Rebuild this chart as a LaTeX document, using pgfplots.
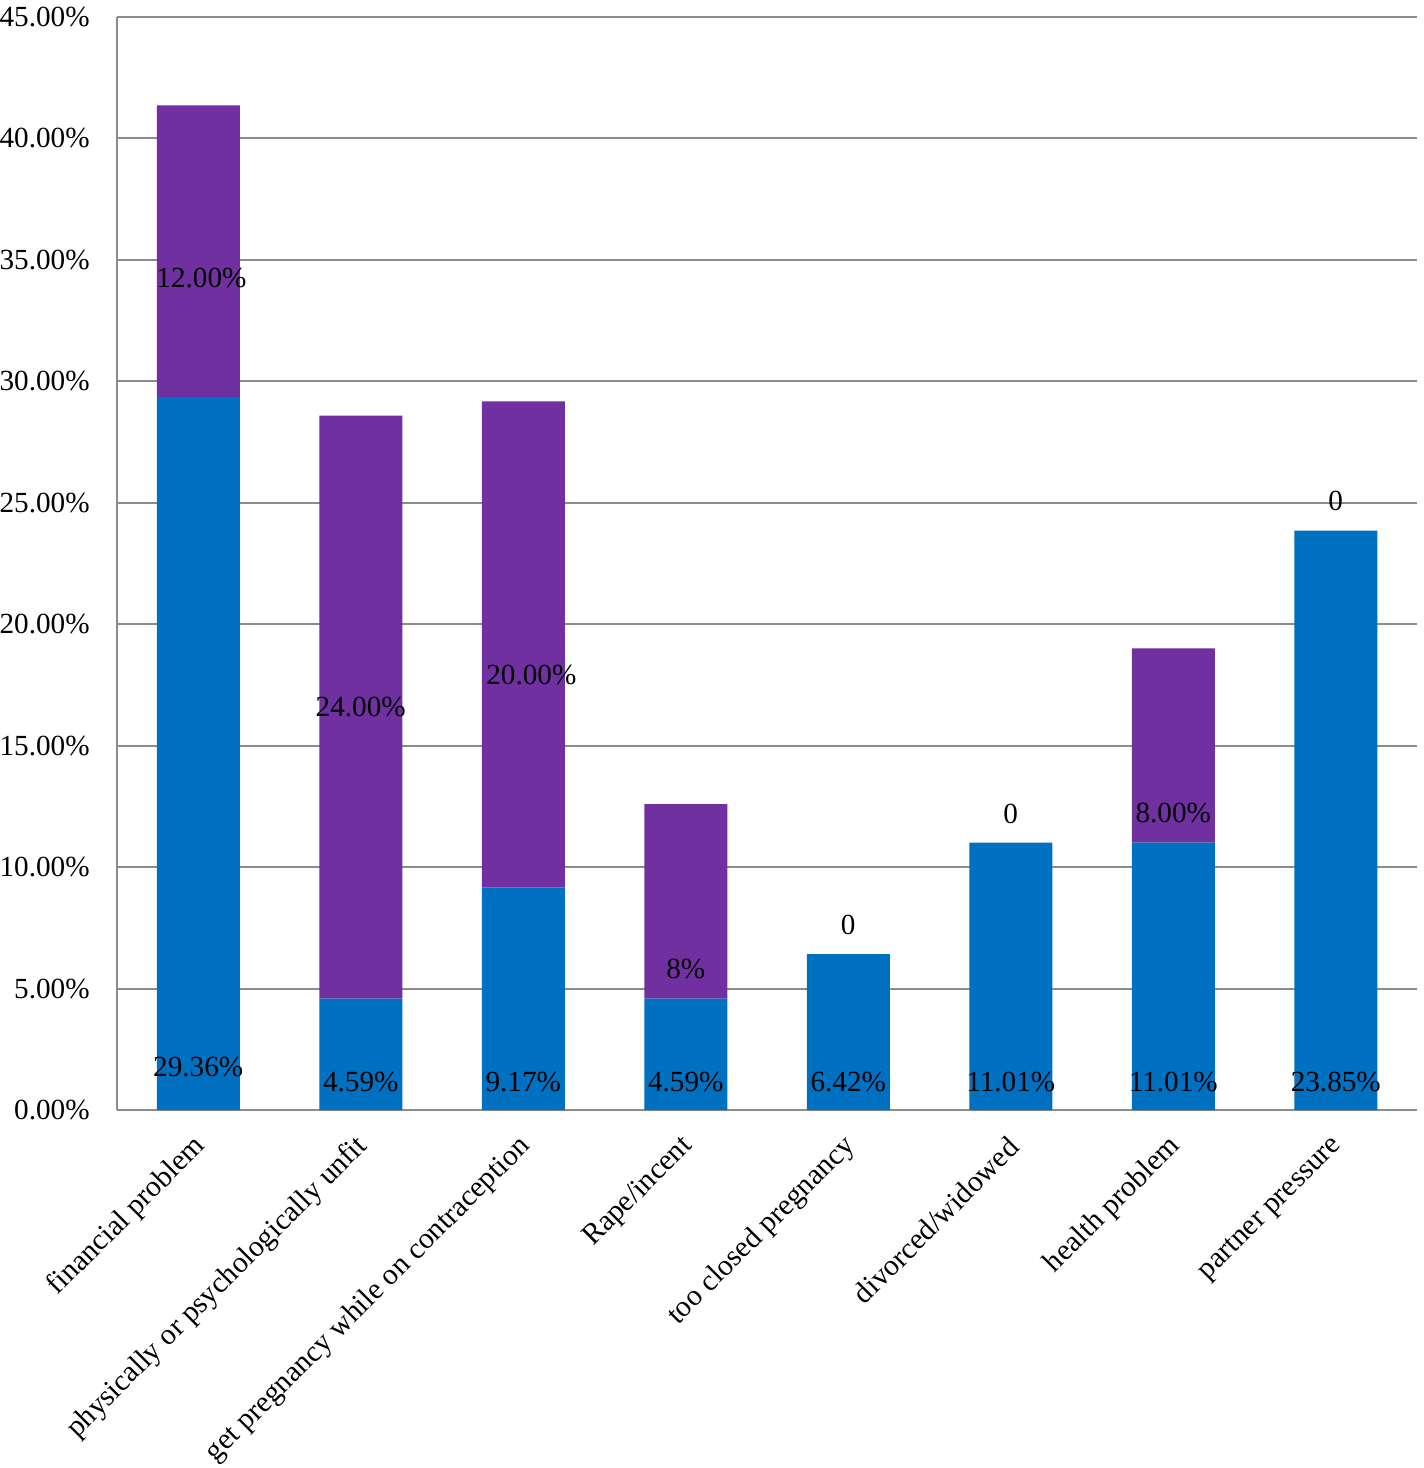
\documentclass[border=0pt]{standalone}
\usepackage{fontspec}
\setmainfont{Liberation Serif}
\usepackage{pgfplots}
\pgfplotsset{compat=1.18}
\definecolor{cblue}{HTML}{0070C0}
\definecolor{cpurple}{HTML}{7030A0}
\definecolor{cgrid}{HTML}{8C8C8C}
\newcommand{\lblfont}{\fontsize{14.6}{17}\selectfont}
\newcommand{\xlblfont}{\fontsize{14.8}{17}\selectfont}
\tikzset{blbl/.style={font=\lblfont, inner sep=0pt}}
\begin{document}
\begin{tikzpicture}
\useasboundingbox (0,0) rectangle (712pt,734pt);
\begin{axis}[
  at={(58.5pt,179pt)}, anchor=south west,
  scale only axis, width=650pt, height=546.5pt,
  ybar stacked, bar width=41.5pt,
  xmin=-0.5, xmax=7.5, ymin=0, ymax=45,
  xtick={0,...,7},
  xticklabels={financial problem, physically or psychologically unfit, get pregnancy while on contraception, Rape/incent, too closed pregnancy, divorced/widowed, health problem, partner pressure},
  ytick={0,5,...,45},
  yticklabel={\pgfmathprintnumber[fixed,fixed zerofill,precision=2]{\tick}\%},
  /pgf/number format/assume math mode=true,
  major tick length=0pt,
  axis x line*=bottom, axis y line*=left,
  axis line style={draw=cgrid, line width=1pt, -},
  ymajorgrids, grid style={draw=cgrid, line width=1pt},
  yticklabel style={font=\lblfont, inner sep=0pt, xshift=-13.5pt},
  xticklabel style={font=\xlblfont, inner sep=0pt, yshift=-16pt, xshift=1.5pt, rotate=45, anchor=east},
  clip=false,
]
\addplot[fill=cblue, draw=none] coordinates {(0,29.36) (1,4.59) (2,9.17) (3,4.59) (4,6.42) (5,11.01) (6,11.01) (7,23.85)};
\addplot[fill=cpurple, draw=none] coordinates {(0,12) (1,24) (2,20) (3,8) (4,0) (5,0) (6,8) (7,0)};
\coordinate (b0) at (axis cs:0,1.77);
\coordinate (b1) at (axis cs:1,1.15);
\coordinate (b2) at (axis cs:2,1.15);
\coordinate (b3) at (axis cs:3,1.15);
\coordinate (b4) at (axis cs:4,1.15);
\coordinate (b5) at (axis cs:5,1.15);
\coordinate (b6) at (axis cs:6,1.15);
\coordinate (b7) at (axis cs:7,1.15);
\coordinate (p0) at (axis cs:0.02,34.25);
\coordinate (p1) at (axis cs:1,16.6);
\coordinate (p2) at (axis cs:2.05,17.9);
\coordinate (p3) at (axis cs:3,5.8);
\coordinate (p4) at (axis cs:4,7.6);
\coordinate (p5) at (axis cs:5,12.2);
\coordinate (p6) at (axis cs:6,12.23);
\coordinate (p7) at (axis cs:7,25.07);
\end{axis}
\node[blbl] at (b0) {29.36\%};
\node[blbl] at (b1) {4.59\%};
\node[blbl] at (b2) {9.17\%};
\node[blbl] at (b3) {4.59\%};
\node[blbl] at (b4) {6.42\%};
\node[blbl] at (b5) {11.01\%};
\node[blbl] at (b6) {11.01\%};
\node[blbl] at (b7) {23.85\%};
\node[blbl] at (p0) {12.00\%};
\node[blbl] at (p1) {24.00\%};
\node[blbl] at (p2) {20.00\%};
\node[blbl] at (p3) {8\%};
\node[blbl] at (p4) {0};
\node[blbl] at (p5) {0};
\node[blbl] at (p6) {8.00\%};
\node[blbl] at (p7) {0};
\end{tikzpicture}
\end{document}
